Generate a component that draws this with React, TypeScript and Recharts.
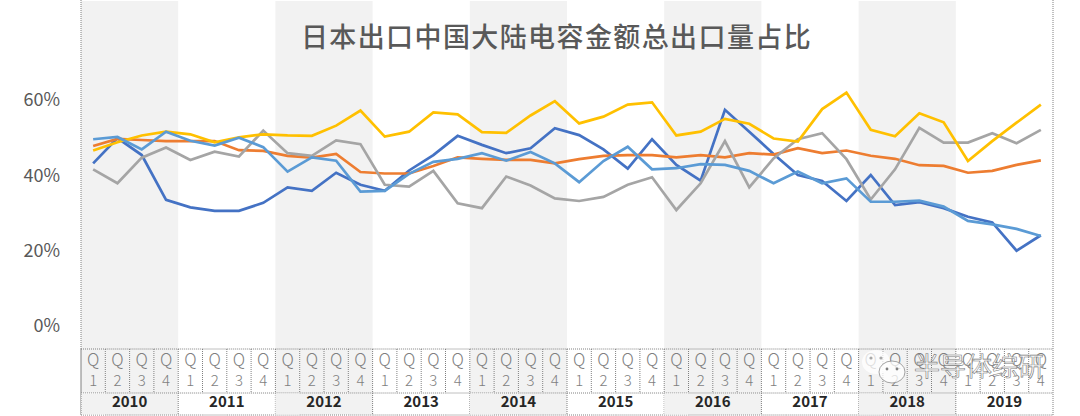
import { LineChart, Line, XAxis, YAxis, ReferenceArea } from "recharts";

const years = [2010, 2011, 2012, 2013, 2014, 2015, 2016, 2017, 2018, 2019];
const quarters = [1, 2, 3, 4];
const yTicks = [0, 20, 40, 60];

const darkBlue = [
  43.2, 49.9, 45.4, 33.5, 31.5, 30.6, 30.6, 32.7, 36.8, 35.9, 40.7, 37.5, 35.9, 41.3, 45.4, 50.5, 48.1, 45.9, 47.2, 52.5,
  50.7, 46.9, 41.8, 49.6, 42.8, 38.6, 57.4, 51.6, 45.7, 40.1, 38.5, 33.2, 40.1, 32.1, 32.9, 31.3, 29, 27.5, 20, 24.1,
];
const orange = [
  47.8, 49.7, 49.4, 49.1, 49.1, 49.1, 46.7, 46.5, 45.2, 44.7, 45.7, 40.9, 40.5, 40.5, 42.5, 44.8, 44.4, 44.1, 44.1, 43.2,
  44.3, 45.2, 45.4, 45.4, 44.8, 45.4, 44.8, 45.9, 45.5, 47.2, 45.9, 46.6, 45.2, 44.4, 42.7, 42.5, 40.7, 41.2, 42.8, 44,
];
const gray = [
  41.6, 37.9, 44.7, 47.4, 44.1, 46.3, 45, 51.9, 45.9, 45.2, 49.3, 48.3, 37.5, 37, 41.2, 32.6, 31.3, 39.7, 37.3, 33.9,
  33.2, 34.3, 37.5, 39.5, 30.8, 37.9, 49.1, 36.8, 44.5, 49.6, 51.2, 44.3, 33.6, 41.6, 52.6, 48.7, 48.7, 51.2, 48.5, 52.1,
];
const yellow = [
  46.6, 48.8, 50.6, 51.6, 50.9, 48.8, 50.1, 50.9, 50.6, 50.5, 53.2, 57.2, 50.3, 51.6, 56.7, 56.2, 51.5, 51.3, 55.9, 59.7,
  53.8, 55.6, 58.8, 59.4, 50.6, 51.6, 55, 53.7, 49.8, 49, 57.6, 62, 52.1, 50.4, 56.5, 54.1, 43.8, 49.1, 54, 58.8,
];
const lightBlue = [
  49.6, 50.2, 46.9, 51.6, 49.2, 47.9, 50, 47.5, 41, 44.8, 43.9, 35.7, 35.9, 40.4, 43.6, 44.4, 45.9, 43.9, 46.2, 43.2,
  38.2, 43.8, 47.6, 41.6, 41.9, 43, 42.8, 41.2, 37.9, 41, 37.9, 39.2, 33, 33, 33.3, 31.7, 27.9, 27, 25.8, 23.9,
];

const labels = years.flatMap((y) => quarters.map((q) => `${y}Q${q}`));
const rows = labels.map((label, i) => ({
  label,
  darkBlue: darkBlue[i],
  orange: orange[i],
  gray: gray[i],
  yellow: yellow[i],
  lightBlue: lightBlue[i],
}));

const W = 1080;
const H = 416;
const LEFT = 81;
const RIGHT = 1053;
const BW = (RIGHT - LEFT) / labels.length;
const BAND = "#f2f2f2";
const DOT = "#808080";
const FONT = '"Noto Sans CJK SC", "Noto Sans", sans-serif';

function TableTick({ x, y, payload, index }: any) {
  const i = index ?? payload.index;
  const yearIdx = Math.floor(i / 4);
  const q = (i % 4) + 1;
  const left = x - BW / 2;
  const shaded = yearIdx % 2 === 0;
  return (
    <g fontFamily={FONT}>
      {shaded && <rect x={left} y={y} width={BW} height={44} fill={BAND} />}
      <text x={x} y={y + 12} textAnchor="middle" dominantBaseline="middle" fontSize={17} fontWeight={300} fill="#7f7f7f">
        Q
      </text>
      <text x={x} y={y + 33} textAnchor="middle" dominantBaseline="middle" fontSize={15} fontWeight={300} fill="#7f7f7f">
        {q}
      </text>
      <line x1={left} x2={left} y1={y} y2={q === 1 ? y + 66 : y + 44} stroke={DOT} strokeDasharray="1 1" />
      <line x1={left} x2={left + BW} y1={y} y2={y} stroke={DOT} strokeDasharray="1 1" />
      <line x1={left} x2={left + BW} y1={y + 44} y2={y + 44} stroke={DOT} strokeDasharray="1 1" />
      <line x1={left} x2={left + BW} y1={y + 66} y2={y + 66} stroke={DOT} strokeDasharray="1 1" />
      {q === 1 && shaded && <rect x={left} y={y + 44.5} width={BW * 4} height={21} fill={BAND} />}
      {q === 1 && (
        <text x={left + BW * 2} y={y + 54} textAnchor="middle" dominantBaseline="middle" fontSize={15} fontWeight={700} fill="#262626">
          {years[yearIdx]}
        </text>
      )}
    </g>
  );
}

export default function App() {
  return (
    <div style={{ position: "absolute", left: 0, top: 0, width: W, height: H, background: "#fff", overflow: "hidden" }}>
      <LineChart width={W} height={H} data={rows} margin={{ top: 1, right: W - RIGHT, bottom: 1, left: 0 }}>
        <XAxis
          dataKey="label"
          scale="band"
          interval={0}
          height={66}
          tickSize={0}
          tickMargin={0}
          axisLine={false}
          tickLine={false}
          tick={TableTick}
        />
        <YAxis
          width={LEFT}
          domain={[-6.1, 86.3]}
          ticks={yTicks}
          tickFormatter={(v: number) => `${v}%`}
          tickSize={0}
          tickMargin={21}
          axisLine={false}
          tickLine={false}
          tick={{ fontSize: 18, fill: "#595959", fontFamily: FONT }}
        />
        {years.map((y, i) =>
          i % 2 === 0 ? (
            <ReferenceArea key={y} x1={`${y}Q1`} x2={`${y}Q4`} fill={BAND} fillOpacity={1} stroke="none" />
          ) : null,
        )}
        <Line dataKey="darkBlue" stroke="#4472c4" strokeWidth={2.7} dot={false} isAnimationActive={false} />
        <Line dataKey="orange" stroke="#ed7d31" strokeWidth={2.7} dot={false} isAnimationActive={false} />
        <Line dataKey="gray" stroke="#a5a5a5" strokeWidth={2.7} dot={false} isAnimationActive={false} />
        <Line dataKey="yellow" stroke="#ffc000" strokeWidth={2.7} dot={false} isAnimationActive={false} />
        <Line dataKey="lightBlue" stroke="#5b9bd5" strokeWidth={2.7} dot={false} isAnimationActive={false} />
      </LineChart>
      <svg width={W} height={H} style={{ position: "absolute", left: 0, top: 0, pointerEvents: "none" }}>
        <line x1={LEFT} x2={LEFT} y1={0} y2={416} stroke={DOT} strokeDasharray="1 1" />
        <line x1={RIGHT} x2={RIGHT} y1={0} y2={416} stroke={DOT} strokeDasharray="1 1" />
        <text x={556.5} y={40} textAnchor="middle" dominantBaseline="middle" fontFamily={FONT} fontSize={27} letterSpacing={1.4} fontWeight={500} fill="#595959">
          日本出口中国大陆电容金额总出口量占比
        </text>
        <ellipse cx={876} cy={362} rx={14} ry={12} fill="#ffffff" fillOpacity={0.75} />
        <circle cx={871} cy={358} r={1.6} fill="#a8a8a8" />
        <circle cx={881} cy={358} r={1.6} fill="#a8a8a8" />
        <ellipse cx={892} cy={372} rx={13} ry={11} fill="#ffffff" fillOpacity={0.75} stroke="#8c8c8c" strokeWidth={0.8} />
        <circle cx={887} cy={369} r={1.4} fill="#808080" />
        <circle cx={897} cy={369} r={1.4} fill="#808080" />
        <text x={979} y={369} textAnchor="middle" dominantBaseline="middle" fontFamily={FONT} fontSize={26} fill="#ffffff" fillOpacity={0.8} stroke="#7a7a7a" strokeWidth={0.6}>
          半导体综研
        </text>
      </svg>
    </div>
  );
}
